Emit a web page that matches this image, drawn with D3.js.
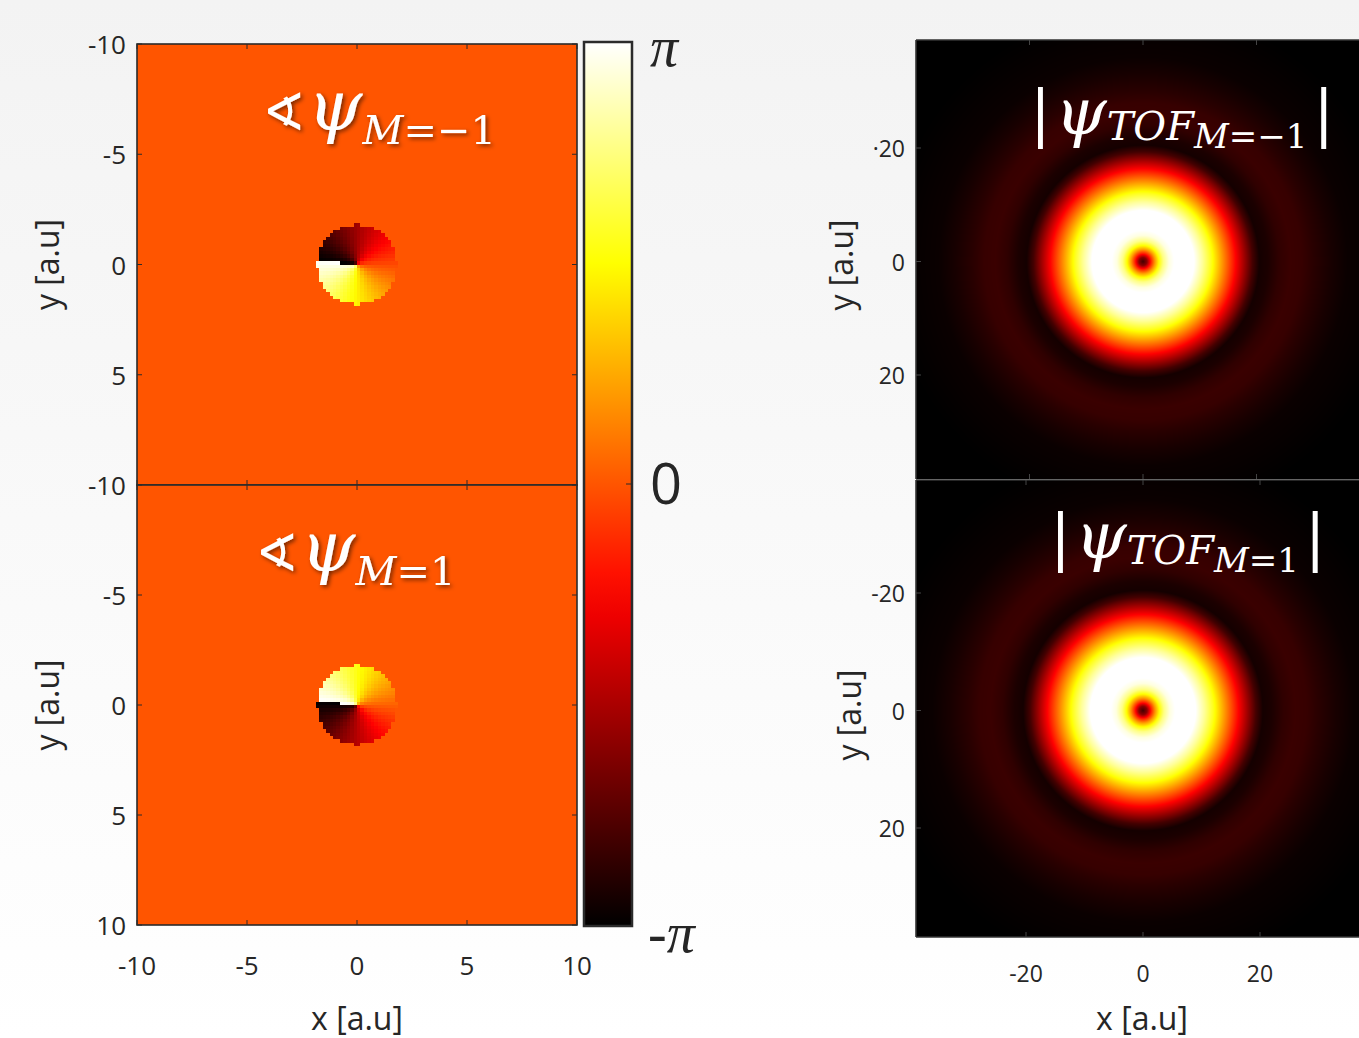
<!DOCTYPE html>
<html>
<head>
<meta charset="utf-8">
<script src="https://cdn.jsdelivr.net/npm/d3@7"></script>
<style>
html, body { margin: 0; padding: 0; overflow: hidden; background: #f6f6f6; }
svg { display: block; }
text { font-family: "Open Sans", "DejaVu Sans", sans-serif; fill: #262626; }
.math { font-family: "DejaVu Serif", serif; fill: #fff; }
</style>
</head>
<body>
<svg id="fig" width="1359" height="1038"></svg>
<script>
var PI = Math.PI;

// phase maps (left column)
var phaseCharge = [-1, 1];
var phaseSub = ["M=\u22121", "M=1"];
var coreRadius = [1.8, 1.8];       // a.u.
var cutAngle = [174, 174];         // degrees, screen angle of the branch cut
var phaseTicks = [-10, -5, 0, 5, 10];
var phaseTickLabels = [["-10", "-5", "0", "5", ""], ["-10", "-5", "0", "5", "10"]];
var phaseXLabels = ["-10", "-5", "0", "5", "10"];
var cbValues = [PI, 0, -PI];
var cbLabels = ["\u03c0", "0", "-\u03c0"];

// time of flight density (right column)
var tofSub = ["M=\u22121", "M=1"];
var tofTicks = [-20, 0, 20];
var tofYLabels = [["\u00b720", "0", "20"], ["-20", "0", "20"]];
var tofXLabels = ["-20", "0", "20"];
var tofRadius = [0, 0.7, 1.4, 2.1, 2.8, 3.6, 4.6, 5.5, 9.0, 10.5, 12.0, 13.5, 15.0, 16.5, 18.0, 19.3, 20.5, 22.0, 24.0, 26.0, 28.0, 30.0, 33.0, 36.0, 45.0];
var tofAmp    = [0.1, 0.2, 0.42, 0.6, 0.75, 0.88, 0.97, 1.0, 1.0, 0.9, 0.78, 0.64, 0.5, 0.36, 0.22, 0.1, 0.03, 0.04, 0.07, 0.085, 0.08, 0.06, 0.035, 0.015, 0];

var svg = d3.select("#fig");
var defs = svg.append("defs");

// background
var bg = defs.append("linearGradient").attr("id", "bg").attr("x1", 0).attr("x2", 0).attr("y1", 0).attr("y2", 1);
bg.append("stop").attr("offset", 0).attr("stop-color", "#f3f3f3");
bg.append("stop").attr("offset", 1).attr("stop-color", "#ffffff");
svg.append("rect").attr("width", 1359).attr("height", 1038).attr("fill", "url(#bg)");

var shadow = defs.append("filter").attr("id", "shadow").attr("x", -0.2).attr("y", -0.3).attr("width", 1.4).attr("height", 1.6);
shadow.append("feDropShadow").attr("dx", 2).attr("dy", 2).attr("stdDeviation", 2)
    .attr("flood-color", "#000").attr("flood-opacity", 0.55);

// matlab "hot"
var hot = d3.scaleLinear()
    .domain([0, 0.375, 0.75, 1])
    .range(["#000000", "#ff0000", "#ffff00", "#ffffff"])
    .clamp(true);

function paint(n, m, valueAt) {
    var cv = document.createElement("canvas");
    cv.width = n; cv.height = m;
    var ctx = cv.getContext("2d");
    var img = ctx.createImageData(n, m);
    for (var j = 0; j < m; j++) {
        for (var i = 0; i < n; i++) {
            var c = d3.rgb(hot(valueAt(i, j)));
            var k = (j * n + i) * 4;
            img.data[k] = c.r; img.data[k + 1] = c.g; img.data[k + 2] = c.b; img.data[k + 3] = 255;
        }
    }
    ctx.putImageData(img, 0, 0);
    return cv.toDataURL();
}

function wrap(a) {
    while (a > PI) a -= 2 * PI;
    while (a <= -PI) a += 2 * PI;
    return a;
}

// ---------- left column: phase ----------
var xL = d3.scaleLinear().domain([-10, 10]).range([137, 577]);
var yLs = [d3.scaleLinear().domain([-10, 10]).range([44, 485]),
           d3.scaleLinear().domain([-10, 10]).range([485, 925])];
var N = 128;

phaseCharge.forEach(function (M, p) {
    var y = yLs[p];
    var g = svg.append("g");
    var url = paint(N, N, function (i, j) {
        var px = -10 + (i + 0.5) * 20 / N;
        var py = -10 + (j + 0.5) * 20 / N;
        var ph = 0;
        if (Math.sqrt(px * px + py * py) <= coreRadius[p]) {
            var th = Math.atan2(-py, px) - (cutAngle[p] - 180) * PI / 180;
            ph = wrap(M * th);
        }
        return (ph + PI) / (2 * PI);
    });
    g.append("image")
        .attr("href", url)
        .attr("x", xL(-10)).attr("y", y(-10))
        .attr("width", xL(10) - xL(-10)).attr("height", y(10) - y(-10))
        .attr("preserveAspectRatio", "none")
        .style("image-rendering", "pixelated");
    g.append("rect")
        .attr("x", xL(-10)).attr("y", y(-10))
        .attr("width", xL(10) - xL(-10)).attr("height", y(10) - y(-10))
        .attr("fill", "none").attr("stroke", "#2b2b2b").attr("stroke-width", 1.6);

    // inner ticks on all sides
    phaseTicks.forEach(function (t) {
        g.append("line").attr("x1", xL(-10)).attr("x2", xL(-10) + 5).attr("y1", y(t)).attr("y2", y(t)).attr("stroke", "#2b2b2b");
        g.append("line").attr("x1", xL(10)).attr("x2", xL(10) - 5).attr("y1", y(t)).attr("y2", y(t)).attr("stroke", "#2b2b2b");
        g.append("line").attr("x1", xL(t)).attr("x2", xL(t)).attr("y1", y(10)).attr("y2", y(10) - 5).attr("stroke", "#2b2b2b");
        g.append("line").attr("x1", xL(t)).attr("x2", xL(t)).attr("y1", y(-10)).attr("y2", y(-10) + 5).attr("stroke", "#2b2b2b");
    });

    g.selectAll("text.ytick").data(phaseTicks).enter().append("text")
        .attr("class", "ytick")
        .attr("x", 126).attr("y", function (d) { return y(d) + 10; })
        .attr("text-anchor", "end").attr("font-size", 26)
        .text(function (d, i) { return phaseTickLabels[p][i]; });

    g.append("text")
        .attr("transform", "translate(" + 59 + "," + y(0) + ") rotate(-90)")
        .attr("text-anchor", "middle").attr("font-size", 32)
        .text("y [a.u]");

    // title
    var t = g.append("text").attr("class", "math").attr("filter", "url(#shadow)")
        .attr("x", p === 0 ? 262 : 255).attr("y", y(-10) + 86);
    t.append("tspan").style("font-family", "DejaVu Sans").attr("font-size", 52).text("\u2222");
    t.append("tspan").attr("font-style", "italic").attr("font-size", 70).attr("dx", 2).text("\u03c8");
    t.append("tspan").attr("font-style", "italic").attr("font-size", 40).attr("dy", 14).text("M");
    t.append("tspan").attr("font-size", 40).text(phaseSub[p].slice(1));
});

svg.selectAll("text.xtick").data(phaseTicks).enter().append("text")
    .attr("class", "xtick")
    .attr("x", function (d) { return xL(d); }).attr("y", 975)
    .attr("text-anchor", "middle").attr("font-size", 26)
    .text(function (d, i) { return phaseXLabels[i]; });
svg.append("text").attr("x", xL(0)).attr("y", 1030)
    .attr("text-anchor", "middle").attr("font-size", 32).text("x [a.u]");

// colorbar
var cbY = d3.scaleLinear().domain([-PI, PI]).range([926, 42]);
var cbGrad = defs.append("linearGradient").attr("id", "cb").attr("x1", 0).attr("x2", 0).attr("y1", 1).attr("y2", 0);
d3.range(0, 1.0001, 0.05).forEach(function (v) {
    cbGrad.append("stop").attr("offset", v).attr("stop-color", hot(v));
});
svg.append("rect").attr("x", 584).attr("y", cbY(PI))
    .attr("width", 48).attr("height", cbY(-PI) - cbY(PI))
    .attr("fill", "url(#cb)").attr("stroke", "#2b2b2b").attr("stroke-width", 2.5);
svg.append("line").attr("x1", 626).attr("x2", 632).attr("y1", cbY(0)).attr("y2", cbY(0)).attr("stroke", "#2b2b2b");
var cbOff = [24, 20, 26];
svg.selectAll("text.cb").data(cbValues).enter().append("text")
    .attr("class", "cb")
    .attr("x", function (d, i) { return i === 2 ? 648 : 650; })
    .attr("y", function (d, i) { return cbY(d) + cbOff[i]; })
    .attr("font-size", function (d, i) { return i === 1 ? 56 : 56; })
    .style("font-family", function (d, i) { return i === 1 ? "Open Sans" : "Liberation Serif"; })
    .attr("font-style", function (d, i) { return i === 1 ? "normal" : "italic"; })
    .text(function (d, i) { return cbLabels[i]; });

// ---------- right column: |psi_TOF| ----------
var xRs = [d3.scaleLinear().domain([-20, 20]).range([1143 - 113.5, 1143 + 113.5]),
           d3.scaleLinear().domain([-20, 20]).range([1026, 1260])];
var yRs = [d3.scaleLinear().domain([-20, 20]).range([148, 375]),
           d3.scaleLinear().domain([-20, 20]).range([593, 828])];
var panelTop = [40, 480], panelBot = [479, 937];
var prof = d3.scaleLinear().domain(tofRadius).range(tofAmp).clamp(true);

tofSub.forEach(function (sub, p) {
    var x = xRs[p], y = yRs[p];
    var g = svg.append("g");
    var x0 = 916, x1 = 1359;
    var ux0 = x.invert(x0), ux1 = x.invert(x1);
    var uy0 = y.invert(panelTop[p]), uy1 = y.invert(panelBot[p]);
    var W = Math.round(x1 - x0), H = Math.round(panelBot[p] - panelTop[p]);
    var url = paint(W, H, function (i, j) {
        var px = ux0 + (i + 0.5) * (ux1 - ux0) / W;
        var py = uy0 + (j + 0.5) * (uy1 - uy0) / H;
        return prof(Math.sqrt(px * px + py * py));
    });
    g.append("image").attr("href", url)
        .attr("x", x0).attr("y", panelTop[p]).attr("width", W).attr("height", H)
        .attr("preserveAspectRatio", "none");

    g.append("line").attr("x1", 916).attr("x2", 916).attr("y1", panelTop[p]).attr("y2", panelBot[p])
        .attr("stroke", "#333").attr("stroke-width", 1.6);
    g.append("line").attr("x1", 916).attr("x2", 1359).attr("y1", panelTop[p]).attr("y2", panelTop[p])
        .attr("stroke", "#333").attr("stroke-width", 1.6);
    tofTicks.forEach(function (t) {
        g.append("line").attr("x1", 916).attr("x2", 921).attr("y1", y(t)).attr("y2", y(t)).attr("stroke", "#444");
        g.append("line").attr("x1", x(t)).attr("x2", x(t)).attr("y1", panelTop[p]).attr("y2", panelTop[p] + 5).attr("stroke", "#444");
        g.append("line").attr("x1", x(t)).attr("x2", x(t)).attr("y1", panelBot[p]).attr("y2", panelBot[p] - 5).attr("stroke", "#444");
    });

    g.selectAll("text.ry").data(tofTicks).enter().append("text")
        .attr("class", "ry")
        .attr("x", 905).attr("y", function (d) { return y(d) + 9; })
        .attr("text-anchor", "end").attr("font-size", 23)
        .text(function (d, i) { return tofYLabels[p][i]; });

    g.append("text")
        .attr("transform", "translate(" + (p === 0 ? 853 : 861) + "," + (p === 0 ? 265 : 715) + ") rotate(-90)")
        .attr("text-anchor", "middle").attr("font-size", 32)
        .text("y [a.u]");

    var t = g.append("text").attr("class", "math")
        .attr("x", p === 0 ? 1030 : 1050).attr("y", p === 0 ? 134 : 558);
    t.append("tspan").attr("font-size", 62).text("|");
    t.append("tspan").attr("font-style", "italic").attr("font-size", 66).attr("dx", 4).text("\u03c8");
    t.append("tspan").attr("font-style", "italic").attr("font-size", 40).attr("dy", 6).text("TOF");
    t.append("tspan").attr("font-style", "italic").attr("font-size", 34).attr("dy", 8).text("M");
    t.append("tspan").attr("font-size", 34).text(sub.slice(1));
    t.append("tspan").attr("font-size", 62).attr("dx", 6).attr("dy", -14).text("|");
});

svg.append("line").attr("x1", 916).attr("x2", 1359).attr("y1", 937).attr("y2", 937)
    .attr("stroke", "#333").attr("stroke-width", 1.6);
svg.selectAll("text.rx").data(tofTicks).enter().append("text")
    .attr("class", "rx")
    .attr("x", function (d) { return xRs[1](d); }).attr("y", 982)
    .attr("text-anchor", "middle").attr("font-size", 23)
    .text(function (d, i) { return tofXLabels[i]; });
svg.append("text").attr("x", 1142).attr("y", 1030)
    .attr("text-anchor", "middle").attr("font-size", 32).text("x [a.u]");
</script>
</body>
</html>
